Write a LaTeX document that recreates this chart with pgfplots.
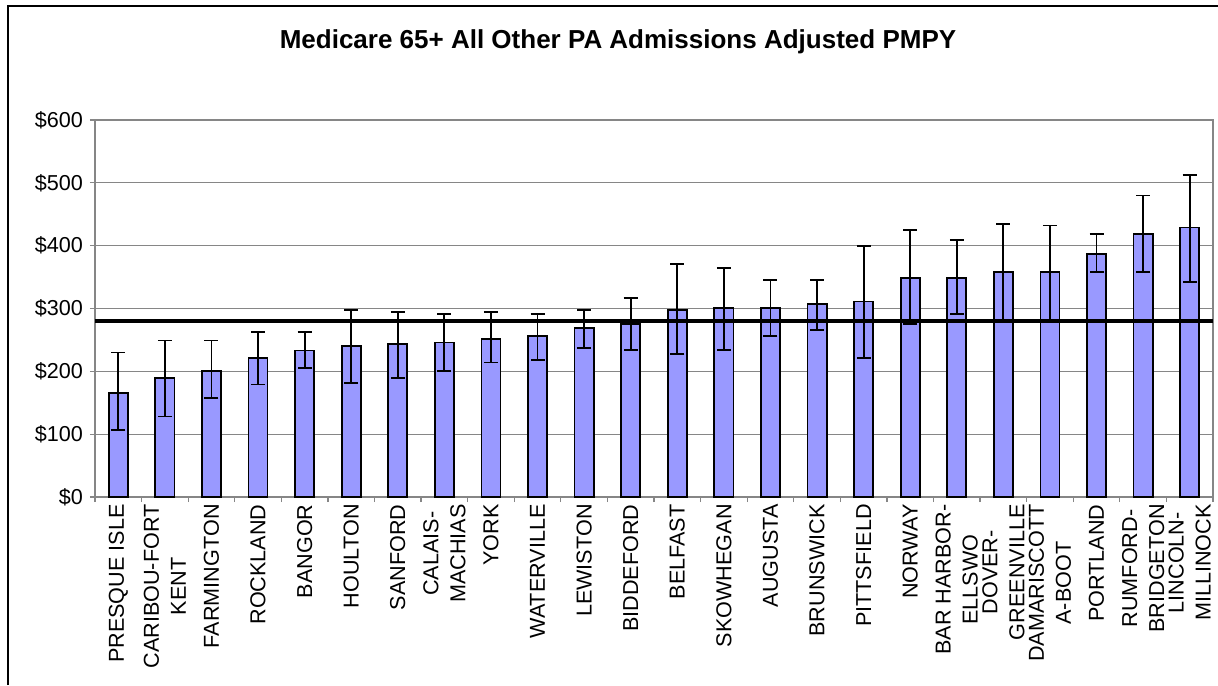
\documentclass[border=0pt]{standalone}
\usepackage{pgfplots}
\pgfplotsset{compat=1.18}
\usepackage{fontspec}
\setmainfont{Liberation Sans}
\definecolor{barblue}{HTML}{9999FF}
\definecolor{axgray}{HTML}{868686}

% x, value, upper and lower whisker length
\pgfplotstableread{
x  y   ep  em
0  166 64  60
1  189 60  61
2  201 48  44
3  221 41  42
4  233 29  28
5  240 57  58
6  243 51  54
7  246 45  45
8  252 42  38
9  256 35  38
10 269 28  32
11 275 42  41
12 297 74  70
13 301 63  67
14 301 44  45
15 307 38  41
16 311 89  90
17 348 77  73
18 348 61  57
19 358 77  79
20 358 74  76
21 387 32  29
22 419 61  61
23 429 83  87
}\pmpy

\begin{document}
\begin{tikzpicture}
\useasboundingbox (0,0) rectangle (609pt,342.5pt);
\draw[line width=1pt] (4pt,0) -- (4pt,339.5pt) -- (609pt,339.5pt);
\node[font=\fontsize{13}{15}\selectfont\bfseries] at (309pt,321.5pt)
  {Medicare 65+ All Other PA Admissions Adjusted PMPY};
\begin{axis}[
  at={(47.5pt,94pt)}, anchor=south west,
  scale only axis, width=559pt, height=188.5pt,
  bar width=0.41,
  xmin=-0.5, xmax=23.5, ymin=0, ymax=600,
  xtick={-0.5,0.5,...,23.5}, xticklabels={},
  extra x ticks={0,1,...,23},
  extra x tick style={tick style={draw=none}},
  extra x tick labels={PRESQUE ISLE,CARIBOU-FORT\\KENT,FARMINGTON,ROCKLAND,BANGOR,HOULTON,SANFORD,CALAIS-\\MACHIAS,YORK,WATERVILLE,LEWISTON,BIDDEFORD,BELFAST,SKOWHEGAN,AUGUSTA,BRUNSWICK,PITTSFIELD,NORWAY,BAR HARBOR-\\ELLSWO,DOVER-\\GREENVILLE,DAMARISCOTT\\A-BOOT,PORTLAND,RUMFORD-\\BRIDGETON,LINCOLN-\\MILLINOCK},
  xticklabel style={rotate=90, anchor=east, align=center, inner sep=1pt,
    font=\fontsize{10.8}{13.5}\selectfont},
  ytick={0,100,...,600},
  yticklabels={\$0,\$100,\$200,\$300,\$400,\$500,\$600},
  yticklabel style={font=\fontsize{10.8}{13}\selectfont},
  xtick pos=bottom, ytick pos=left, tick align=outside,
  major tick length=2.5pt,
  tick style={axgray, line width=0.6pt},
  axis line style={axgray, line width=0.8pt},
  ymajorgrids, grid style={axgray, line width=0.5pt},
]
\addplot[ybar, fill=barblue, draw=black, line width=0.9pt,
  error bars/.cd, y dir=both, y explicit,
  error bar style={black, line width=0.9pt},
  error mark options={black, line width=0.9pt, mark size=3.5pt, rotate=90}]
  table[x=x, y=y, y error plus=ep, y error minus=em] {\pmpy};
\addplot[sharp plot, black, line width=1.7pt, mark=none, forget plot]
  coordinates {(-0.5,280) (23.5,280)};
\end{axis}
\end{tikzpicture}
\end{document}
